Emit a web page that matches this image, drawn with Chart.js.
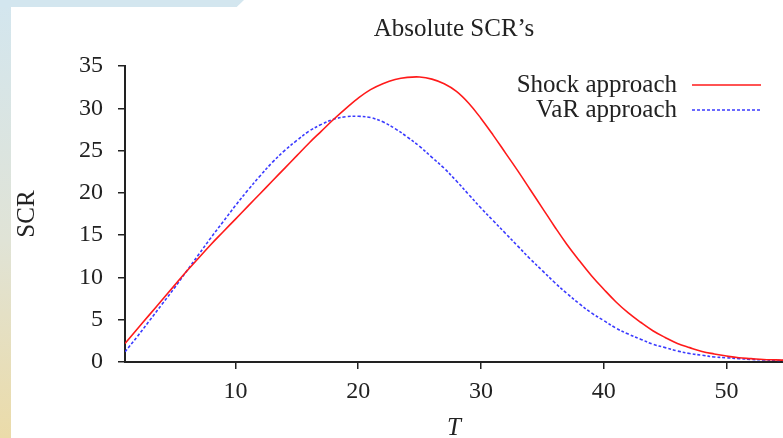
<!DOCTYPE html>
<html>
<head>
<meta charset="utf-8">
<script src="https://cdn.jsdelivr.net/npm/chart.js@4.4.0/dist/chart.umd.min.js"></script>
<style>
  body { margin: 0; background: #fff; }
  #wrap { position: relative; width: 783px; height: 438px; overflow: hidden; background: #fff; }
  #sideBar { position: absolute; left: 0; top: 0; width: 11px; height: 438px;
    background: linear-gradient(#d3e6ef, #e0e3d6 55%, #ebdba9); }
  #topBar { position: absolute; left: 0; top: 0; width: 244px; height: 7px; background: #d3e6ef;
    clip-path: polygon(0 0, 100% 0, 97% 100%, 0 100%); }
  canvas { position: absolute; left: 0; top: 0; }
</style>
</head>
<body>
<div id="wrap">
  <div id="sideBar"></div>
  <div id="topBar"></div>
  <canvas id="scrChart" width="783" height="438"></canvas>
</div>
<script>
// valeurs
const tValues = [1, 2, 3, 4, 5, 6, 7, 8, 9, 10, 11, 12, 13, 14, 15, 16, 17, 18, 19, 20,
  21, 22, 23, 24, 25, 26, 27, 28, 29, 30, 31, 32, 33, 34, 35, 36, 37, 38, 39, 40,
  41, 42, 43, 44, 45, 46, 47, 48, 49, 50, 51, 52, 53, 54, 55];
const shockScr = [2.2, 3.9, 5.6, 7.3, 9.0, 10.7, 12.3, 13.9, 15.4, 16.9, 18.4, 19.9, 21.4, 22.9, 24.4, 25.9, 27.3, 28.7, 30.0, 31.2,
  32.2, 32.9, 33.4, 33.65, 33.7, 33.45, 32.9, 32.0, 30.6, 28.8, 26.8, 24.7, 22.6, 20.4, 18.2, 16.0, 13.9, 12.0, 10.2, 8.6,
  7.1, 5.8, 4.7, 3.7, 2.9, 2.2, 1.7, 1.25, 0.95, 0.7, 0.5, 0.4, 0.3, 0.25, 0.2];
const varScr = [1.2, 3.0, 4.9, 6.8, 8.7, 10.7, 12.7, 14.7, 16.6, 18.5, 20.3, 22.0, 23.6, 25.0, 26.2, 27.3, 28.1, 28.7, 29.0, 29.05,
  28.9, 28.4, 27.6, 26.6, 25.5, 24.2, 22.9, 21.4, 19.8, 18.2, 16.7, 15.2, 13.7, 12.2, 10.8, 9.4, 8.1, 6.9, 5.8, 4.9,
  4.0, 3.3, 2.7, 2.1, 1.7, 1.3, 1.0, 0.8, 0.6, 0.5, 0.4, 0.3, 0.25, 0.2, 0.15];
const seriesLabels = ["Shock approach", "VaR approach"];
const xTicks = [10, 20, 30, 40, 50];
const yTicks = [0, 5, 10, 15, 20, 25, 30, 35];

const SERIF = '"Liberation Serif", "DejaVu Serif", serif';
const INK = "#222";

// légende façon gnuplot : texte à gauche, trait à droite
const rightLegend = {
  id: "rightLegend",
  afterDraw(chart) {
    const c = chart.ctx;
    c.save();
    c.font = "25px " + SERIF;
    c.textAlign = "right";
    c.textBaseline = "middle";
    chart.data.datasets.forEach((ds, i) => {
      const y = 85 + i * 25;
      c.fillStyle = INK;
      c.fillText(ds.label, 677, y);
      c.strokeStyle = ds.borderColor;
      c.lineWidth = ds.borderWidth;
      c.setLineDash(ds.borderDash || []);
      c.beginPath();
      c.moveTo(692, y);
      c.lineTo(761, y);
      c.stroke();
    });
    c.restore();
  }
};

const toPoints = arr => tValues.map((t, i) => ({ x: t, y: arr[i] }));

new Chart(document.getElementById("scrChart").getContext("2d"), {
  type: "line",
  data: {
    datasets: [{
      label: seriesLabels[0],
      data: toPoints(shockScr),
      borderColor: "#ff1a1a",
      borderWidth: 1.6,
      pointRadius: 0,
      tension: 0.4
    }, {
      label: seriesLabels[1],
      data: toPoints(varScr),
      borderColor: "#3a3aff",
      borderWidth: 1.6,
      borderDash: [3, 2],
      pointRadius: 0,
      tension: 0.4
    }]
  },
  options: {
    responsive: false,
    animation: false,
    layout: { padding: 0 },
    plugins: {
      legend: { display: false },
      tooltip: { enabled: false },
      title: {
        display: true,
        text: "Absolute SCR\u2019s",
        fullSize: false,
        color: INK,
        font: { family: SERIF, size: 25, weight: "normal" },
        padding: { top: 14, bottom: 22 }
      }
    },
    scales: {
      x: {
        type: "linear",
        min: 1,
        max: 54.6,
        afterBuildTicks: s => { s.ticks = xTicks.map(v => ({ value: v })); },
        afterFit: s => { s.height = 76; },
        grid: { drawOnChartArea: false, drawTicks: true, tickLength: 7, color: INK, lineWidth: 1.5 },
        border: { color: INK, width: 2 },
        ticks: { color: INK, padding: 8, maxRotation: 0, font: { family: SERIF, size: 24 } },
        title: {
          display: true, text: "T", color: INK, padding: 0,
          font: { family: SERIF, size: 25, style: "italic", lineHeight: 0.8 }
        }
      },
      y: {
        min: 0,
        max: 35,
        afterBuildTicks: s => { s.ticks = yTicks.map(v => ({ value: v })); },
        afterFit: s => { s.width = 125; },
        grid: { drawOnChartArea: false, drawTicks: true, tickLength: 7, color: INK, lineWidth: 1.5 },
        border: { color: INK, width: 2 },
        ticks: { color: INK, padding: 15, font: { family: SERIF, size: 24 } },
        title: {
          display: true, text: "SCR", color: INK, padding: { top: 12, bottom: 0 },
          font: { family: SERIF, size: 25 }
        }
      }
    }
  },
  plugins: [rightLegend]
});
</script>
</body>
</html>
